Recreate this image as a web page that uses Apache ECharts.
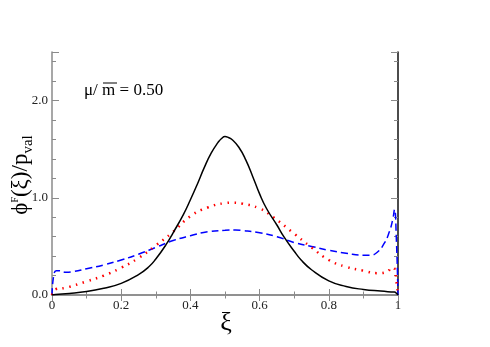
<!DOCTYPE html>
<html>
<head>
<meta charset="utf-8">
<script src="https://cdn.jsdelivr.net/npm/echarts@6/dist/echarts.min.js"></script>
<style>
  html, body { margin: 0; padding: 0; background: #fff; }
  #chart { width: 490px; height: 347px; }
</style>
</head>
<body>
<div id="chart"></div>
<script>
// solid black curve
const blackX = [0, 0.01, 0.05, 0.1, 0.15, 0.2, 0.25, 0.28, 0.3, 0.33, 0.35, 0.38, 0.4, 0.42, 0.44, 0.46, 0.48, 0.49, 0.5, 0.51, 0.52, 0.54, 0.56, 0.58, 0.6, 0.62, 0.65, 0.67, 0.7, 0.72, 0.75, 0.8, 0.85, 0.9, 0.95, 0.98, 0.99, 0.995, 1.0]
const blackY = [0, 0.005, 0.015, 0.035, 0.07, 0.12, 0.21, 0.29, 0.37, 0.52, 0.64, 0.83, 0.98, 1.14, 1.31, 1.46, 1.57, 1.61, 1.63, 1.62, 1.60, 1.52, 1.39, 1.22, 1.04, 0.89, 0.72, 0.60, 0.45, 0.36, 0.26, 0.145, 0.088, 0.057, 0.04, 0.032, 0.03, 0.02, 0]

// red dotted curve
const redX = [0, 0.01, 0.04, 0.1, 0.15, 0.2, 0.25, 0.3, 0.35, 0.4, 0.45, 0.5, 0.52, 0.55, 0.6, 0.64, 0.7, 0.75, 0.8, 0.85, 0.9, 0.94, 0.97, 0.98, 0.99, 0.995, 1.0]
const redY = [0, 0.06, 0.075, 0.14, 0.2, 0.28, 0.38, 0.51, 0.65, 0.81, 0.9, 0.945, 0.95, 0.94, 0.89, 0.80, 0.63, 0.49, 0.36, 0.29, 0.25, 0.225, 0.24, 0.28, 0.27, 0.15, 0]

// blue dashed curve
const blueX = [0, 0.005, 0.012, 0.02, 0.04, 0.06, 0.1, 0.15, 0.2, 0.25, 0.3, 0.35, 0.4, 0.45, 0.5, 0.53, 0.55, 0.6, 0.65, 0.7, 0.75, 0.8, 0.85, 0.9, 0.92, 0.94, 0.96, 0.975, 0.985, 0.99, 0.995, 1.0]
const blueY = [0, 0.2, 0.25, 0.25, 0.235, 0.24, 0.27, 0.31, 0.36, 0.42, 0.49, 0.56, 0.61, 0.65, 0.665, 0.67, 0.665, 0.64, 0.6, 0.54, 0.5, 0.46, 0.43, 0.41, 0.41, 0.44, 0.53, 0.65, 0.78, 0.88, 0.6, 0]

const toPairs = (xs, ys) => xs.map((x, i) => [x, ys[i]])

const serif = '"Liberation Serif", "DejaVu Serif", serif'
const frame = '#8a8a8a'

const xTickLabel = v => (v === 0 || v === 1) ? String(v) : v.toFixed(1)
const yTickLabel = v => (Math.abs(v - Math.round(v)) < 1e-9) ? v.toFixed(1) : ''

const chart = echarts.init(document.getElementById('chart'))

const yBase = { type: 'value', min: 0, max: 2.5, splitLine: { show: false } }

chart.setOption({
  animation: false,
  grid: { left: 52, right: 92, top: 52, bottom: 52 },
  xAxis: [
    {
      type: 'value', min: 0, max: 1, interval: 0.2, position: 'bottom',
      axisLine: { lineStyle: { color: frame, width: 1.5 } },
      axisTick: { inside: true, length: 6, lineStyle: { color: frame } },
      minorTick: { show: true, splitNumber: 2, length: 3.5, lineStyle: { color: frame } },
      axisLabel: { formatter: xTickLabel, fontFamily: serif, fontSize: 13, color: '#222', margin: 4 },
      splitLine: { show: false }
    },
    {
      type: 'value', min: 0, max: 1, interval: 0.2, position: 'top',
      axisLine: { lineStyle: { color: frame, width: 1.5 } },
      axisTick: { inside: true, length: 6, lineStyle: { color: frame } },
      minorTick: { show: true, splitNumber: 2, length: 3.5, lineStyle: { color: frame } },
      axisLabel: { show: false },
      splitLine: { show: false }
    }
  ],
  yAxis: [
    Object.assign({}, yBase, {
      interval: 1, position: 'left',
      axisLine: { show: true, lineStyle: { color: frame, width: 1.5 } },
      axisTick: { show: true, inside: true, length: 7, lineStyle: { color: frame } },
      axisLabel: { formatter: yTickLabel, fontFamily: serif, fontSize: 13, color: '#222', margin: 4 }
    }),
    Object.assign({}, yBase, {
      interval: 0.2, position: 'left',
      axisLine: { show: false },
      axisTick: { show: true, inside: true, length: 4, lineStyle: { color: frame } },
      axisLabel: { show: false }
    }),
    Object.assign({}, yBase, {
      interval: 1, position: 'right',
      axisLine: { show: true, lineStyle: { color: '#111', width: 1.5 } },
      axisTick: { show: true, inside: true, length: 7, lineStyle: { color: frame } },
      axisLabel: { show: false }
    }),
    Object.assign({}, yBase, {
      interval: 0.2, position: 'right',
      axisLine: { show: false },
      axisTick: { show: true, inside: true, length: 4, lineStyle: { color: frame } },
      axisLabel: { show: false }
    })
  ],
  graphic: [
    {
      type: 'text', x: 21, y: 175, rotation: Math.PI / 2,
      style: {
        text: '{a|ϕ}{s|F}{a|(ξ)/p}{b|val}',
        align: 'center', verticalAlign: 'middle',
        rich: {
          a: { fontFamily: serif, fontSize: 23, fill: '#000', lineHeight: 30 },
          s: { fontFamily: serif, fontSize: 10, fill: '#000', verticalAlign: 'top', lineHeight: 30, padding: [4, 0, 0, 0] },
          b: { fontFamily: serif, fontSize: 15, fill: '#000', verticalAlign: 'bottom', lineHeight: 30 }
        }
      }
    },
    {
      type: 'text', x: 226, y: 323,
      style: { text: 'ξ', fontFamily: serif, fontSize: 26, fill: '#000', align: 'center', verticalAlign: 'middle' }
    },
    {
      type: 'text', x: 84, y: 91,
      style: { text: 'μ/ m = 0.50', fontFamily: serif, fontSize: 17, fill: '#000', align: 'left', verticalAlign: 'middle' }
    },
    {
      type: 'line', shape: { x1: 103, y1: 83, x2: 117, y2: 83 },
      style: { stroke: '#000', lineWidth: 1 }
    }
  ],
  series: [
    {
      type: 'line', data: toPairs(blackX, blackY), smooth: 0.5, symbol: 'none',
      lineStyle: { color: '#000', width: 1.5 }, z: 3
    },
    {
      type: 'line', data: toPairs(redX, redY), smooth: 0.5, symbol: 'none',
      lineStyle: { color: '#ff0000', width: 2.5, type: [1.5, 5.5] }, z: 2
    },
    {
      type: 'line', data: toPairs(blueX, blueY), smooth: 0.5, symbol: 'none',
      lineStyle: { color: '#0000ff', width: 1.5, type: [7, 4] }, z: 1
    }
  ]
})
</script>
</body>
</html>
